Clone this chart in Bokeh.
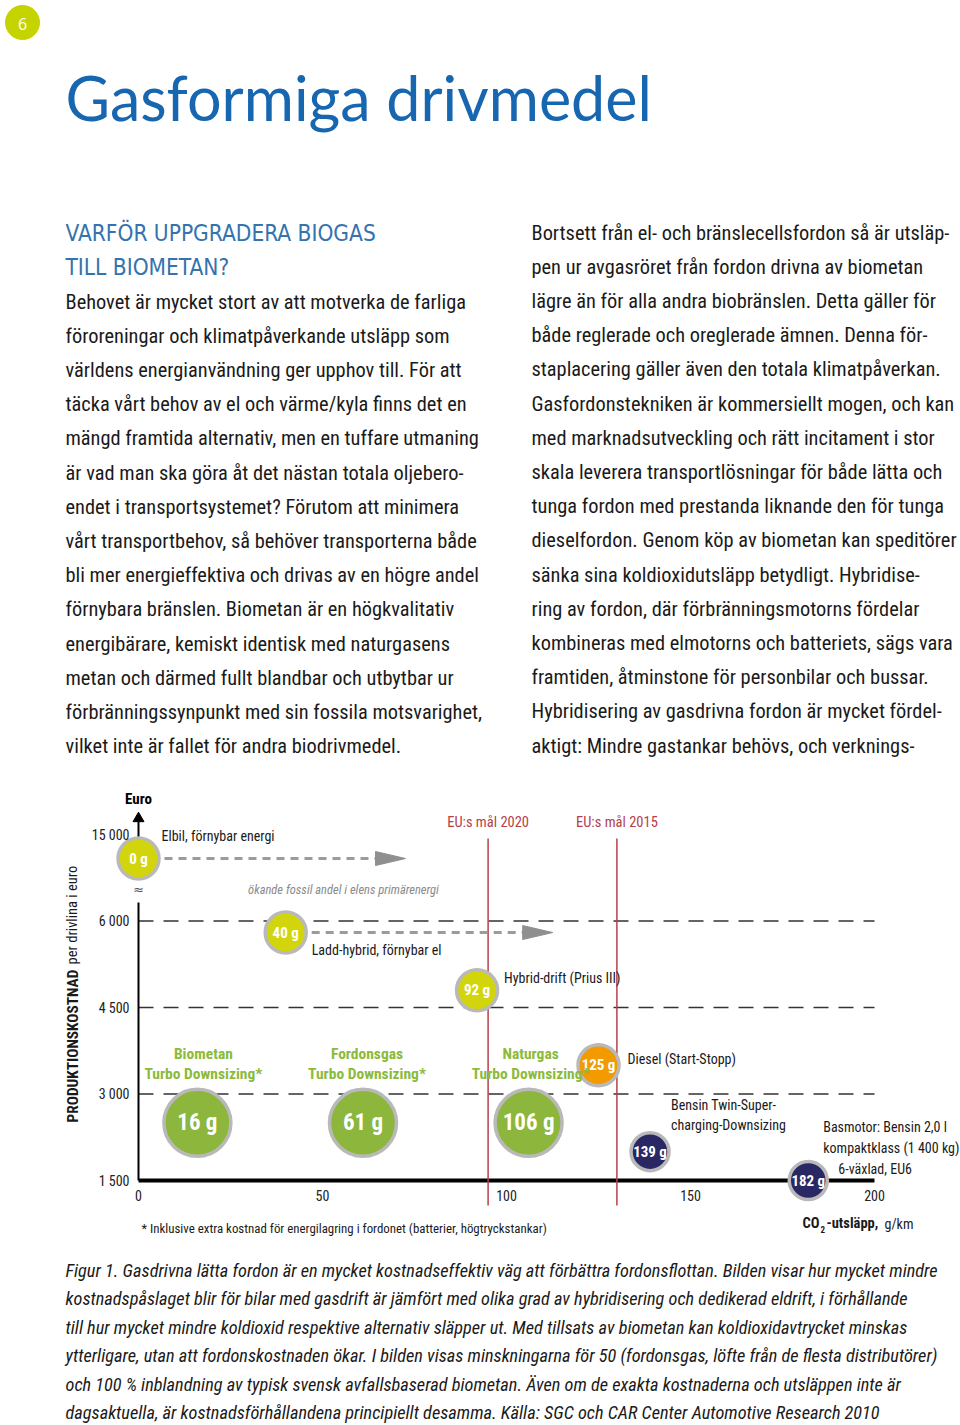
import math
from bokeh.plotting import figure
from bokeh.models import Range1d, FixedTicker, LinearAxis
from bokeh.layouts import column
from bokeh.embed import file_html
from bokeh.resources import INLINE
from bokeh.core.properties import value

# ---------------------------------------------------------------- data
page_number = "6"
title = "Gasformiga drivmedel"
heading = ["VARFÖR UPPGRADERA BIOGAS", "TILL BIOMETAN?"]
left_body = [
    "Behovet är mycket stort av att motverka de farliga",
    "föroreningar och klimatpåverkande utsläpp som",
    "världens energianvändning ger upphov till. För att",
    "täcka vårt behov av el och värme/kyla finns det en",
    "mängd framtida alternativ, men en tuffare utmaning",
    "är vad man ska göra åt det nästan totala oljebero-",
    "endet i transportsystemet? Förutom att minimera",
    "vårt transportbehov, så behöver transporterna både",
    "bli mer energieffektiva och drivas av en högre andel",
    "förnybara bränslen. Biometan är en högkvalitativ",
    "energibärare, kemiskt identisk med naturgasens",
    "metan och därmed fullt blandbar och utbytbar ur",
    "förbränningssynpunkt med sin fossila motsvarighet,",
    "vilket inte är fallet för andra biodrivmedel.",
]
right_body = [
    "Bortsett från el- och bränslecellsfordon så är utsläp-",
    "pen ur avgasröret från fordon drivna av biometan",
    "lägre än för alla andra biobränslen. Detta gäller för",
    "både reglerade och oreglerade ämnen. Denna för-",
    "staplacering gäller även den totala klimatpåverkan.",
    "Gasfordonstekniken är kommersiellt mogen, och kan",
    "med marknadsutveckling och rätt incitament i stor",
    "skala leverera transportlösningar för både lätta och",
    "tunga fordon med prestanda liknande den för tunga",
    "dieselfordon. Genom köp av biometan kan speditörer",
    "sänka sina koldioxidutsläpp betydligt. Hybridise-",
    "ring av fordon, där förbränningsmotorns fördelar",
    "kombineras med elmotorns och batteriets, sägs vara",
    "framtiden, åtminstone för personbilar och bussar.",
    "Hybridisering av gasdrivna fordon är mycket fördel-",
    "aktigt: Mindre gastankar behövs, och verknings-",
]
caption = [
    "Figur 1. Gasdrivna lätta fordon är en mycket kostnadseffektiv väg att förbättra fordonsflottan. Bilden visar hur mycket mindre",
    "kostnadspåslaget blir för bilar med gasdrift är jämfört med olika grad av hybridisering och dedikerad eldrift, i förhållande",
    "till hur mycket mindre koldioxid respektive alternativ släpper ut. Med tillsats av biometan kan koldioxidavtrycket minskas",
    "ytterligare, utan att fordonskostnaden ökar. I bilden visas minskningarna för 50 (fordonsgas, löfte från de flesta distributörer)",
    "och 100 % inblandning av typisk svensk avfallsbaserad biometan. Även om de exakta kostnaderna och utsläppen inte är",
    "dagsaktuella, är kostnadsförhållandena principiellt desamma. Källa: SGC och CAR Center Automotive Research 2010",
]

co2 = [0, 40, 92, 16, 61, 106, 125, 139, 182]
cost = [12500, 5800, 4800, 2500, 2500, 2500, 3500, 2000, 1500]
bubble_text = ["0 g", "40 g", "92 g", "16 g", "61 g", "106 g", "125 g", "139 g", "182 g"]
kind = ["el", "el", "hybrid", "gas", "gas", "gas", "diesel", "bensin", "bensin"]
vehicle = [
    ["Elbil, förnybar energi"],
    ["Ladd-hybrid, förnybar el"],
    ["Hybrid-drift (Prius III)"],
    ["Biometan", "Turbo Downsizing*"],
    ["Fordonsgas", "Turbo Downsizing*"],
    ["Naturgas", "Turbo Downsizing*"],
    ["Diesel (Start-Stopp)"],
    ["Bensin Twin-Super-", "charging-Downsizing"],
    ["Basmotor: Bensin 2,0 l", "kompaktklass (1 400 kg)", "6-växlad, EU6"],
]
trend_from = [0, 1]
trend_note = "ökande fossil andel i elens primärenergi"

x_ticks = [0, 50, 100, 150, 200]
y_ticks = [1500, 3000, 4500, 6000, 15000]
y_tick_labels = ["1 500", "3 000", "4 500", "6 000", "15 000"]
grid_levels = [3000, 4500, 6000]
eu_goal = [95, 130]
eu_goal_label = ["EU:s mål 2020", "EU:s mål 2015"]
y_title = ["PRODUKTIONSKOSTNAD", " per drivlina i euro"]
footnote = "* Inklusive extra kostnad för energilagring i fordonet (batterier, högtryckstankar)"

# ---------------------------------------------------------------- style
FONT = "Roboto Condensed"
HEADFONT = "DejaVu Sans Condensed"
W = 960
fill = {"el": "#d3d50c", "hybrid": "#d3d50c", "gas": "#8cb63c",
        "diesel": "#f39a00", "bensin": "#2a2864"}
bsize = {"el": 41, "hybrid": 41, "gas": 67, "diesel": 41, "bensin": 38}
bfont = {"el": "15px", "hybrid": "15px", "gas": "23px", "diesel": "15px", "bensin": "15px"}
# label placement (pixels relative to bubble centre: dx right, dy down)
label_dx = [[23], [26], [27], [6, 6], [4, 4], [2, 2], [29], [21, 21], [15, 15, 30]]
label_dy = [[-23], [17], [-12], [-69, -49], [-69, -49], [-69, -49], [-6], [-47, -27],
            [-54, -33, -12]]


def page_fig(height, top):
    p = figure(width=W, height=height, x_range=Range1d(0, W),
               y_range=Range1d(top + height, top), output_backend="svg",
               toolbar_location=None, min_border=0,
               x_axis_location=None, y_axis_location=None)
    p.outline_line_color = None
    p.grid.visible = False
    return p


# ---------------------------------------------------------------- header text
pA = page_fig(780, 0)
pA.scatter([22], [22], size=34, color="#c5d300")
pA.text([22], [23], [page_number], text_align="center", text_baseline="middle",
        text_color="white", text_font=value("Open Sans"), text_font_size="16px")
pA.text([65], [97], [title], text_font=value("Lato"), text_font_size="61px",
        text_color="#1766b0", text_baseline="alphabetic")
pA.text([65, 65], [232, 266], heading, text_font=value(HEADFONT), text_font_size="22.5px",
        text_color="#3473ad", text_baseline="middle")
pA.text([65] * len(left_body), [301 + 34.2 * i for i in range(len(left_body))], left_body,
        text_font=value(FONT), text_font_size="20.4px", text_color="#1a1a1a",
        text_baseline="middle")
pA.text([531] * len(right_body), [232 + 34.2 * i for i in range(len(right_body))], right_body,
        text_font=value(FONT), text_font_size="20.4px", text_color="#1a1a1a",
        text_baseline="middle")

# ---------------------------------------------------------------- chart
X0, SX = 138.0, 3.68
Y0, SY = 1180.0, 86.5 / 1500.0
TOP = 780
H = 465


def xd(px):
    return (px - X0) / SX


def yd(py):
    return 1500 + (Y0 - py) / SY


def brk(v):
    return v if v <= 6000 else 6000 + (v - 6000) / 6.0


pB = figure(width=W, height=H, x_range=Range1d(xd(0), xd(W)),
            y_range=Range1d(yd(TOP + H), yd(TOP)), output_backend="svg",
            toolbar_location=None, min_border=0,
            x_axis_location=None, y_axis_location=None)
pB.outline_line_color = None

yt = [brk(v) for v in y_ticks]
xax = LinearAxis(fixed_location=1500, bounds=(0, 200), ticker=FixedTicker(ticks=x_ticks),
                 axis_line_color=None,
                 major_tick_out=0, major_tick_in=0, minor_tick_out=0, minor_tick_in=0,
                 major_label_standoff=9, major_label_text_font=FONT,
                 major_label_text_font_size="14px", major_label_text_color="#222")
pB.add_layout(xax, "below")
yax = LinearAxis(fixed_location=0, ticker=FixedTicker(ticks=yt),
                 major_label_overrides={t: l for t, l in zip(yt, y_tick_labels)},
                 axis_line_color=None,
                 major_tick_out=0, major_tick_in=0, minor_tick_out=0, minor_tick_in=0,
                 major_label_standoff=9, major_label_text_font=FONT,
                 major_label_text_font_size="14px", major_label_text_color="#222")
pB.add_layout(yax, "left")
pB.grid.visible = False

# dashed cost levels
gl = [brk(v) for v in grid_levels]
pB.segment([0] * len(gl), gl, [200] * len(gl), gl, line_color="#333", line_width=1.3,
           line_dash="15 10")

# axis lines (y axis with break and arrow)
pB.segment([0], [1500], [200], [1500], line_color="black", line_width=4)
pB.segment([0], [1500], [0], [yd(902)], line_color="black", line_width=2)
pB.segment([0], [yd(879)], [0], [yd(818)], line_color="black", line_width=2)
pB.scatter([0], [yd(818)], marker="triangle", size=11, color="black")
pB.text([0], [yd(889)], ["≈"], text_align="center", text_baseline="middle",
        text_color="#555", text_font=value("DejaVu Sans"), text_font_size="13px")
pB.text([0], [yd(798)], ["Euro"], text_align="center", text_baseline="middle",
        text_font=value(FONT), text_font_style="bold", text_font_size="15px")

# EU goals
pB.segment(eu_goal, [yd(1205)] * 2, eu_goal, [yd(838)] * 2, line_color="#b5404c",
           line_width=1.5)
pB.text(eu_goal, [yd(822)] * 2, eu_goal_label, text_align="center", text_baseline="middle",
        text_color="#b5404c", text_font=value(FONT), text_font_size="14.5px")

# trend arrows
for i in trend_from:
    bx, by = co2[i], brk(cost[i])
    tip = bx + 267 / SX
    pB.segment([bx + 26 / SX], [by], [tip - 28 / SX], [by], line_color="#9b9b9b",
               line_width=3, line_dash="8 6")
    pB.patch([tip - 30 / SX, tip, tip - 30 / SX], [by + 7 / SY, by, by - 7 / SY],
             color="#8f8f8f")
pB.text([xd(343)], [yd(889)], [trend_note], text_align="center", text_baseline="middle",
        text_color="#8a8a8a", text_font=value(FONT), text_font_style="italic",
        text_font_size="12.5px")

# bubbles
by_all = [brk(c) for c in cost]
pB.scatter(co2, by_all, size=[bsize[k] for k in kind], fill_color=[fill[k] for k in kind],
           line_color="#b9b9b9", line_width=3.5)
pB.text(co2, by_all, bubble_text, text_align="center", text_baseline="middle",
        text_color="white", text_font=value(FONT), text_font_style="bold",
        text_font_size=[bfont[k] for k in kind])

# vehicle labels
lx, ly, lt, la, lc, lw, ls = [], [], [], [], [], [], []
for i, lines in enumerate(vehicle):
    for j, t in enumerate(lines):
        lx.append(co2[i] + label_dx[i][j] / SX)
        ly.append(by_all[i] - label_dy[i][j] / SY)
        lt.append(t)
        green = kind[i] == "gas"
        la.append("center" if green else "left")
        lc.append("#8cba3a" if green else "#1a1a1a")
        lw.append("bold" if green else "normal")
        ls.append("15.5px" if green else "14px")
for align in ("left", "center"):
    idx = [k for k in range(len(lt)) if la[k] == align]
    for style in ("bold", "normal"):
        sel = [k for k in idx if lw[k] == style]
        if not sel:
            continue
        pB.text([lx[k] for k in sel], [ly[k] for k in sel], [lt[k] for k in sel],
                text_align=align, text_baseline="middle",
                text_color=[lc[k] for k in sel], text_font=value(FONT),
                text_font_style=style, text_font_size=[ls[k] for k in sel])

# axis titles
pB.text([xd(72)], [yd(1122)], [y_title[0]], angle=math.pi / 2, text_align="left",
        text_baseline="middle", text_font=value(FONT), text_font_style="bold",
        text_font_size="15.3px", text_color="#1a1a1a")
pB.text([xd(72)], [yd(964)], [y_title[1]], angle=math.pi / 2, text_align="left",
        text_baseline="middle", text_font=value(FONT), text_font_size="14.5px",
        text_color="#1a1a1a")
pB.text([xd(802)], [yd(1223)], ["CO"], text_baseline="middle", text_font=value(FONT),
        text_font_style="bold", text_font_size="14.5px", text_color="#1a1a1a")
pB.text([xd(820)], [yd(1229)], ["2"], text_baseline="middle", text_font=value(FONT),
        text_font_style="bold", text_font_size="9px", text_color="#1a1a1a")
pB.text([xd(826)], [yd(1223)], ["-utsläpp,"], text_baseline="middle", text_font=value(FONT),
        text_font_style="bold", text_font_size="14.5px", text_color="#1a1a1a")
pB.text([xd(884)], [yd(1223)], ["g/km"], text_baseline="middle", text_font=value(FONT),
        text_font_size="14px", text_color="#1a1a1a")
pB.text([xd(141)], [yd(1228)], [footnote], text_baseline="middle", text_font=value(FONT),
        text_font_size="12.9px", text_color="#1a1a1a")

# ---------------------------------------------------------------- caption
pC = page_fig(1425 - TOP - H, TOP + H)
pC.text([65] * len(caption), [1270 + 28.4 * i for i in range(len(caption))], caption,
        text_font=value(FONT), text_font_style="italic", text_font_size="18.3px",
        text_color="#1a1a1a", text_baseline="middle")

layout = column(pA, pB, pC, spacing=0)
open("out.html", "w").write(file_html(layout, INLINE))
